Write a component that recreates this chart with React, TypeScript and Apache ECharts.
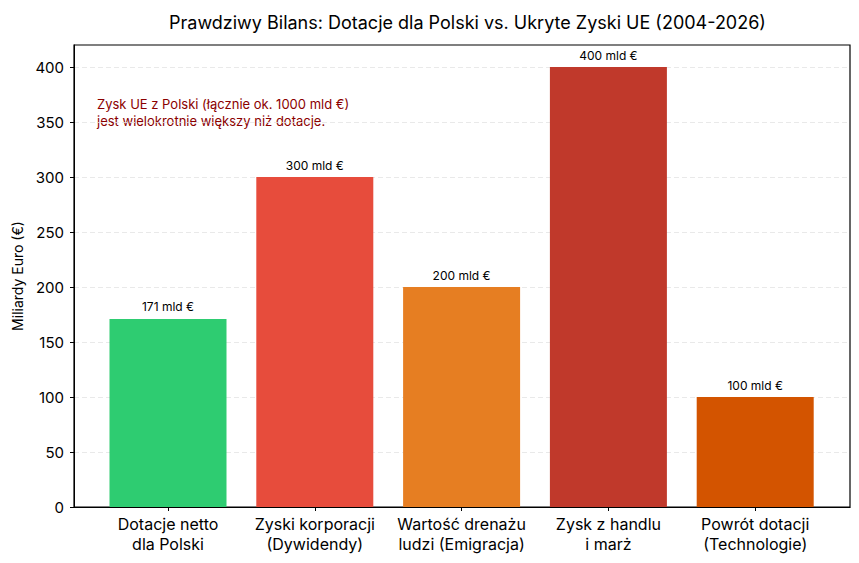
import React, { useEffect, useRef } from "react";
import * as echarts from "echarts";

const categories = [
  "Dotacje netto\ndla Polski",
  "Zyski korporacji\n(Dywidendy)",
  "Wartość drenażu\nludzi (Emigracja)",
  "Zysk z handlu\ni marż",
  "Powrót dotacji\n(Technologie)",
];
const values = [171, 300, 200, 400, 100];
const barColors = ["#2ecc71", "#e74c3c", "#e67e22", "#c0392b", "#d35400"];
const yTicks = [0, 50, 100, 150, 200, 250, 300, 350, 400];
const titleText = "Prawdziwy Bilans: Dotacje dla Polski vs. Ukryte Zyski UE (2004-2026)";
const noteText = "Zysk UE z Polski (łącznie ok. 1000 mld €)\njest wielokrotnie większy niż dotacje.";
const yName = "Miliardy Euro (€)";

const FONT = "Inter, 'Noto Sans', sans-serif";

export default function App() {
  const ref = useRef<HTMLDivElement>(null);
  useEffect(() => {
    if (!ref.current) return;
    const chart = echarts.init(ref.current, null, { renderer: "svg" });
    const gridTop = 45;
    const gridHeight = 462;
    chart.setOption({
      animation: false,
      textStyle: { fontFamily: FONT },
      title: {
        text: titleText,
        left: 164,
        top: 8,
        textStyle: { fontFamily: FONT, fontSize: 18, fontWeight: "normal", color: "#000" },
      },
      grid: [
        { left: 74, top: gridTop, width: 776, height: gridHeight, show: true, borderColor: "#000", borderWidth: 1.2, backgroundColor: "transparent" },
        { left: 94.6, top: gridTop, width: 734, height: gridHeight },
      ],
      xAxis: [
        {
          type: "value", gridIndex: 0, min: 0, max: 1, show: true, z: 5,
          axisLine: { show: true, onZero: false, lineStyle: { color: "#000", width: 1.2 } },
          axisTick: { show: false }, axisLabel: { show: false }, splitLine: { show: false },
        },
        {
          type: "category",
          gridIndex: 1,
          data: categories,
          axisLine: { show: false },
          axisTick: { show: true, alignWithLabel: true, length: 4, lineStyle: { color: "#000" } },
          axisLabel: { color: "#000", fontSize: 16, lineHeight: 20, margin: 7, interval: 0, fontFamily: FONT },
        },
      ],
      yAxis: [
        {
          type: "value",
          gridIndex: 0,
          min: 0,
          max: 420,
          interval: 50,
          name: yName,
          nameLocation: "middle",
          nameGap: 47,
          nameTextStyle: { fontSize: 14, color: "#000", fontFamily: FONT },
          axisLine: { show: true, lineStyle: { color: "#000" } },
          axisTick: { show: true, length: 4, lineStyle: { color: "#000" }, customValues: yTicks },
          axisLabel: { color: "#000", fontSize: 15, margin: 10, customValues: yTicks, fontFamily: FONT },
          splitLine: { show: true, lineStyle: { color: "#e3e3e3", type: [5, 3], width: 0.8 } },
        },
        { type: "value", gridIndex: 1, min: 0, max: 420, show: false, splitLine: { show: false } },
      ],
      series: [
        {
          type: "bar",
          xAxisIndex: 1,
          yAxisIndex: 1,
          barWidth: 117,
          data: values.map((v, i) => ({ value: v, itemStyle: { color: barColors[i] } })),
          label: {
            show: true,
            position: "top",
            distance: 6,
            fontSize: 12,
            color: "#000",
            fontFamily: FONT,
            formatter: (p: any) => `${p.value} mld €`,
          },
        },
      ],
      graphic: [
        {
          type: "text",
          left: 97,
          top: 95,
          style: {
            text: noteText,
            fill: "#8b0000",
            fontSize: 13,
            lineHeight: 17,
            fontFamily: FONT,
          },
        },
      ],
    });
    return () => chart.dispose();
  }, []);
  return <div ref={ref} style={{ width: 859, height: 563, position: "absolute", left: 0, top: 0, background: "#fff" }} />;
}
